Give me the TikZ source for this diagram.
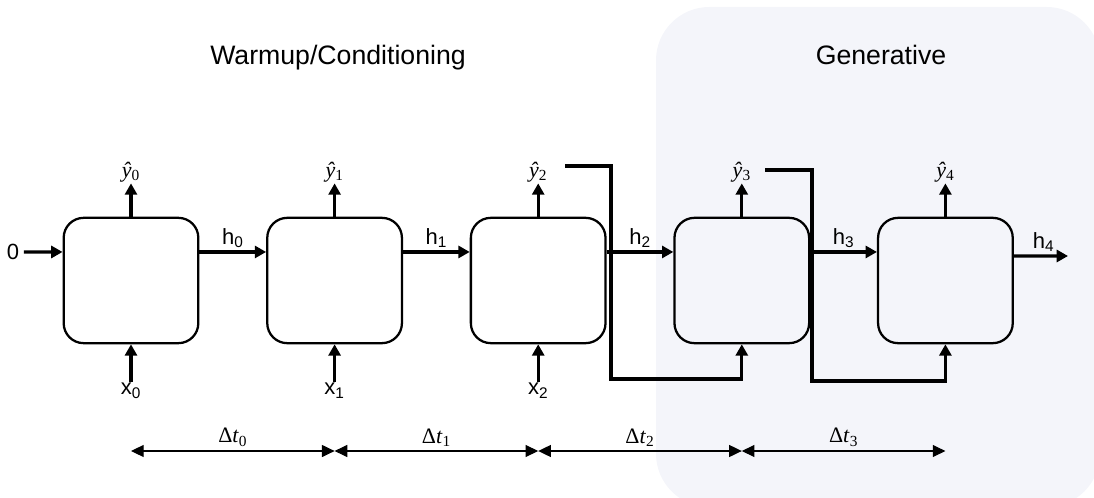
\documentclass[tikz,border=0pt]{standalone}
\usepackage{fontspec}
\setmainfont{Liberation Sans}
\newfontfamily\symfont{Liberation Serif}
\usetikzlibrary{arrows.meta,positioning}
\definecolor{genbg}{RGB}{244,245,250}

\begin{document}
\begin{tikzpicture}[
    x=0.75pt, y=0.75pt,
    cell/.style={rectangle, draw, rounded corners=15pt, minimum width=101pt, minimum height=94pt, line width=1.7pt},
    arrow/.style={-{Triangle[length=8.5pt,width=9pt]}, line width=2.5pt},
    dim/.style={{Triangle[length=9.5pt,width=9pt]}-{Triangle[length=9.5pt,width=9pt]}, line width=0.8pt},
    lbl/.style={font=\fontsize{16.5}{20}\selectfont},
    outlbl/.style={font=\symfont\fontsize{16.5}{20}\selectfont, inner sep=1pt},
    title/.style={font=\fontsize{20}{24}\selectfont}
]
\useasboundingbox (0,0) rectangle (1094,497);

% Shaded generative region
\begin{scope}
\clip (0,0) rectangle (1094,497);
\fill[genbg, rounded corners=40pt] (656,-10) rectangle (1100,490);
\end{scope}

% Titles
\node[title, anchor=base] (warm) at (338,432) {Warmup/Conditioning};
\node[title, anchor=base] (gen) at (881,432) {Generative};

% Recurrent cells
\node[cell] (c0) at (131,216.5) {};
\node[cell, right=50pt of c0] (c1) {};
\node[cell, right=50pt of c1] (c2) {};
\node[cell, right=50pt of c2] (c3) {};
\node[cell, right=50pt of c3] (c4) {};

% Outputs
\node[outlbl, above=25pt of c0] (yh0) {\textit{ŷ}\textsubscript{0}};
\node[outlbl, above=25pt of c1] (yh1) {\textit{ŷ}\textsubscript{1}};
\node[outlbl, above=25pt of c2] (yh2) {\textit{ŷ}\textsubscript{2}};
\node[outlbl, above=25pt of c3] (yh3) {\textit{ŷ}\textsubscript{3}};
\node[outlbl, above=25pt of c4] (yh4) {\textit{ŷ}\textsubscript{4}};

\draw[arrow] (c0.north) -- (yh0.south);
\draw[arrow] (c1.north) -- (yh1.south);
\draw[arrow] (c2.north) -- (yh2.south);
\draw[arrow] (c3.north) -- (yh3.south);
\draw[arrow] (c4.north) -- (yh4.south);

% Inputs
\node[lbl, inner sep=1pt, below=28pt of c0] (xin0) {x\textsubscript{0}};
\node[lbl, inner sep=1pt, below=28pt of c1] (xin1) {x\textsubscript{1}};
\node[lbl, inner sep=1pt, below=28pt of c2] (xin2) {x\textsubscript{2}};

\draw[arrow] (xin0.north) -- (c0.south);
\draw[arrow] (xin1.north) -- (c1.south);
\draw[arrow] (xin2.north) -- (c2.south);

% Hidden states
\node[lbl] (zero) at (13,245) {0};
\coordinate (hout) at (1068,241);

\draw[arrow] (zero) -- ([yshift=21.4pt]c0.west);
\draw[arrow] ([yshift=21.4pt]c0.east) -- node[lbl, above, inner sep=2pt] {h\textsubscript{0}} ([yshift=21.4pt]c1.west);
\draw[arrow] ([yshift=21.4pt]c1.east) -- node[lbl, above, inner sep=2pt] {h\textsubscript{1}} ([yshift=21.4pt]c2.west);
\draw[arrow] ([yshift=21.4pt]c2.east) -- node[lbl, above, inner sep=2pt] {h\textsubscript{2}} ([yshift=21.4pt]c3.west);
\draw[arrow] ([yshift=21.4pt]c3.east) -- node[lbl, above, inner sep=2pt] {h\textsubscript{3}} ([yshift=21.4pt]c4.west);
\draw[arrow] ([yshift=18.4pt]c4.east) -- node[lbl, above, inner sep=2pt, pos=0.55] {h\textsubscript{4}} (hout);

% Feedback of predictions
\coordinate (y2out) at (565,331);
\coordinate (y3out) at (765,327);

\draw[arrow] (y2out) -- ++(46,0) -- ++(0,-213) -| (c3.south);
\draw[arrow] (y3out) -- ++(47,0) -- ++(0,-211) -| (c4.south);

% Time intervals
\coordinate (tl) at (0,46);

\draw[dim] (c0 |- tl) -- node[outlbl, above=2pt] {Δ\textit{t}\textsubscript{0}} (c1 |- tl);
\draw[dim] (c1 |- tl) -- node[outlbl, above=2pt] {Δ\textit{t}\textsubscript{1}} (c2 |- tl);
\draw[dim] (c2 |- tl) -- node[outlbl, above=2pt] {Δ\textit{t}\textsubscript{2}} (c3 |- tl);
\draw[dim] (c3 |- tl) -- node[outlbl, above=2pt] {Δ\textit{t}\textsubscript{3}} (c4 |- tl);

\end{tikzpicture}
\end{document}
